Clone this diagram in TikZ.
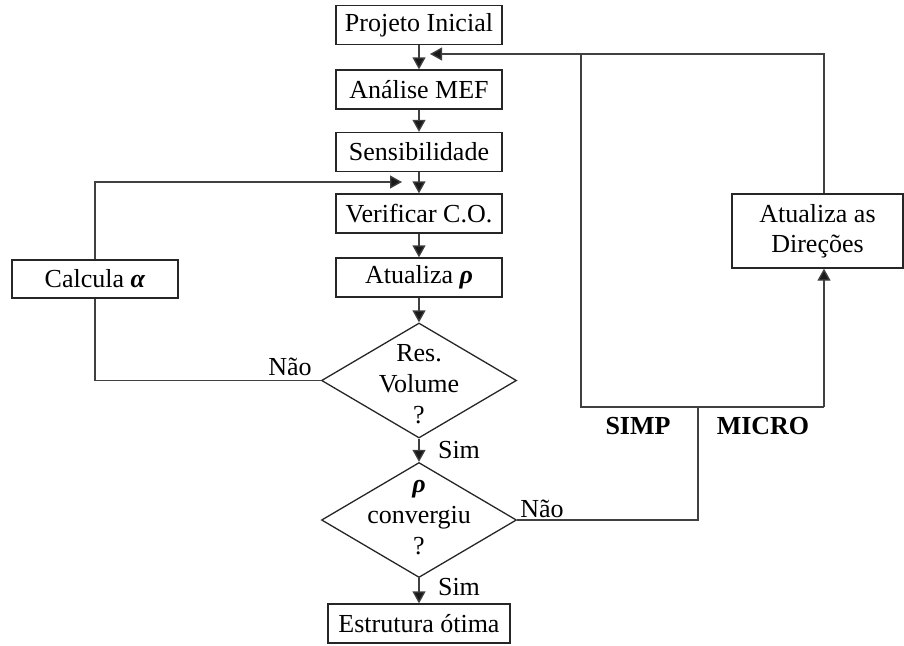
\documentclass[tikz,border=0pt]{standalone}
\usepackage{fontspec}
\setmainfont{Liberation Serif}
\usetikzlibrary{arrows.meta,shapes.geometric}
\begin{document}
\begin{tikzpicture}[x=1pt,y=-1pt,
 box/.style={draw=black!85, line width=1.3pt, rectangle, minimum width=166pt, minimum height=39pt, inner sep=0pt, font=\fontsize{26}{30}\selectfont},
 dia/.style={draw=black!85, line width=1.3pt, diamond, minimum width=195pt, minimum height=115pt, inner sep=0pt},
 txt/.style={font=\fontsize{26}{31}\selectfont, inner sep=0pt, align=center},
 btxt/.style={txt, font=\fontsize{26}{31}\selectfont\bfseries},
 conn/.style={draw=black!75, line width=1.3pt},
 arr/.style={conn, -{Triangle[width=13pt,length=12pt,fill=black!90]}}]
\useasboundingbox (0,0) rectangle (904,645);

\node[box] (proj) at (419,25) {Projeto Inicial};
\node[box] (mef) at (419,89.5) {Análise MEF};
\node[box] (sens) at (419,152) {Sensibilidade};
\node[box] (ver) at (419,213.5) {Verificar C.O.};
\node[box] (atu) at (419,277.5) {Atualiza \textbf{\textit{ρ}}};
\node[dia] (d1) at (419,380.5) {};
\node[txt] (d1t) at (419,384) {Res.\\Volume\\?};
\node[dia] (d2) at (419,520) {};
\node[txt] (d2t) at (419,518) {\textbf{\textit{ρ}}\\convergiu\\?};
\node[box, minimum width=182pt] (est) at (419,623.5) {Estrutura ótima};
\node[box, minimum height=38pt] (calc) at (95,279) {Calcula \textbf{\textit{α}}};
\node[box, minimum width=171pt, minimum height=74pt, align=center, font=\fontsize{26}{30}\selectfont] (dir) at (817.5,231) {Atualiza as\\Direções};

\node[txt] (nao1) at (290,367) {Não};
\node[txt] (nao2) at (542,509) {Não};
\node[txt] (sim1) at (459,450) {Sim};
\node[txt] (sim2) at (459,587) {Sim};
\node[btxt] (simp) at (638,426) {SIMP};
\node[btxt] (micro) at (763,426) {MICRO};

\draw[arr] (proj) -- (mef);
\draw[arr] (mef) -- (sens);
\draw[arr] (sens) -- (ver);
\draw[arr] (ver) -- (atu);
\draw[arr] (atu) -- (d1.north);
\draw[arr] (d1.south) -- (d2.north);
\draw[arr] (d2.south) -- (est);

\coordinate (lt) at (402,182);
\draw[conn] (d1.west) -| (calc.south);
\draw[arr] (calc.north) |- (lt);

\coordinate (nj) at (698,407);
\coordinate (sl) at (581,407);
\coordinate (sr) at (824,407);
\coordinate (tl) at (581,54);
\coordinate (tr) at (824,54);
\coordinate (ta) at (430,54);
\draw[conn] (d2.east) -| (nj);
\draw[conn] (tl) -- (sl) -- (sr);
\draw[arr] (sr) -- (sr |- dir.south);
\draw[arr] (tr |- dir.north) -- (tr) -- (ta);
\end{tikzpicture}
\end{document}
